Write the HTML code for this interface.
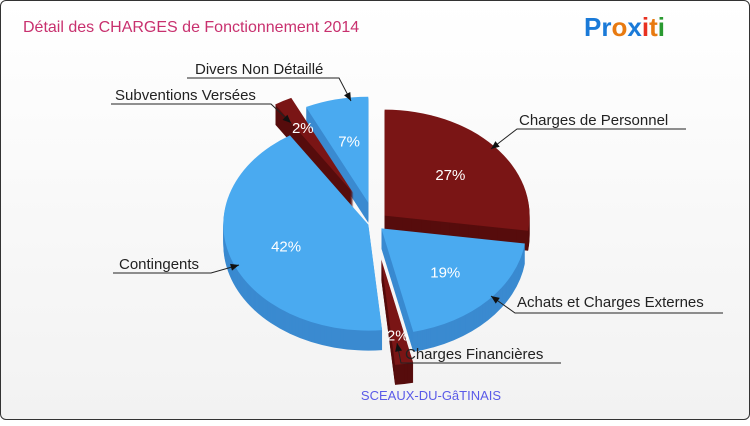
<!DOCTYPE html>
<html><head><meta charset="utf-8"><style>
body{margin:0;width:750px;height:420px;overflow:hidden;font-family:"Liberation Sans",sans-serif}
#w{position:absolute;left:0;top:0;width:748px;height:418px;border:1px solid #333;border-radius:6px;background:linear-gradient(#fff,#f2f2f2)}
</style></head><body>
<div id="w">
<svg id="s" width="750" height="420">
<text x="22" y="31" font-size="16" fill="#c8306e">Détail des CHARGES de Fonctionnement 2014</text>
<text x="583" y="35" font-size="26" font-weight="bold"><tspan fill="#1a7ad8">Pr</tspan><tspan fill="#e87a10">o</tspan><tspan fill="#1a7ad8">x</tspan><tspan fill="#e83020">i</tspan><tspan fill="#e87a10">t</tspan><tspan fill="#2a9a30">i</tspan></text>
<g id="pie"></g><g id="lab"></g>
<text x="430" y="399" text-anchor="middle" font-size="13" fill="#5a5ae8">SCEAUX-DU-GâTINAIS</text>
</svg></div>
<script>
const names=["Charges de Personnel","Achats et Charges Externes","Charges Financières","Contingents","Subventions Versées","Divers Non Détaillé"];
const values=[27,19,2,42,2,7];
const pctLabels=["27%","19%","2%","42%","2%","7%"];
const explode=[14,10,46,6,42,26];
const tops=["#7a1515","#4aaaf0","#7a1515","#4aaaf0","#7a1515","#4aaaf0"];
const sides=["#560c0c","#3a8ad0","#560c0c","#3a8ad0","#560c0c","#3a8ad0"];
const cx=373,cy=222,rx=145,ry=106,depth=20;
const NS="http://www.w3.org/2000/svg";
const pie=document.getElementById('pie'),lab=document.getElementById('lab');
const tot=values.reduce((a,b)=>a+b,0);
function pt(a,r,ox,oy){return [cx+ox+r*rx*Math.sin(a),cy+oy-r*ry*Math.cos(a)];}
function path(a1,a2,ox,oy){const p0=pt(0,0,ox,oy),p1=pt(a1,1,ox,oy),p2=pt(a2,1,ox,oy);
return `M${p0}L${p1}A${rx},${ry} 0 ${a2-a1>Math.PI?1:0} 1 ${p2}Z`;}
let acc=0;const sl=[];
values.forEach((v,i)=>{const a1=acc/tot*2*Math.PI;acc+=v;const a2=acc/tot*2*Math.PI;const m=(a1+a2)/2;
sl.push({i,a1,a2,m,ox:explode[i]*Math.sin(m),oy:-explode[i]*Math.cos(m)*0.8});});
sl.slice().sort((a,b)=>(-Math.cos(a.m))-(-Math.cos(b.m))).forEach(s=>{
const g=document.createElementNS(NS,'g');


for(let d=depth;d>0;d-=1){const p=document.createElementNS(NS,'path');p.setAttribute('d',path(s.a1,s.a2,s.ox,s.oy+d));p.setAttribute('fill',sides[s.i]);g.appendChild(p);}
const t=document.createElementNS(NS,'path');t.setAttribute('d',path(s.a1,s.a2,s.ox,s.oy));t.setAttribute('fill',tops[s.i]);g.appendChild(t);
pie.appendChild(g);});
sl.forEach(s=>{const r=s.i==2||s.i==4?0.72:0.6;const p=pt(s.m,r,s.ox,s.oy);
const t=document.createElementNS(NS,'text');t.setAttribute('x',p[0]);t.setAttribute('y',p[1]+6);
t.setAttribute('text-anchor','middle');t.setAttribute('font-size','15');t.setAttribute('fill','#fff');
t.textContent=pctLabels[s.i];lab.appendChild(t);});
const callouts=[[518,124,"start",[685,128],[516,128],[490,148]],[516,306,"start",[722,312],[514,312],[490,295]],[404,358,"start",[560,362],[400,362],[396,342]],[118,268,"start",[112,272],[210,272],[238,264]],[114,99,"start",[110,103],[270,103],[290,122]],[194,73,"start",[186,77],[338,77],[350,100]]];
callouts.forEach((c,i)=>{const g=document.createElementNS(NS,'g');


g.innerHTML=`<text x="${c[0]}" y="${c[1]}" font-size="15" fill="#222">${names[i]}</text><polyline points="${c[3]} ${c[4]} ${c[5]}" fill="none" stroke="#222" stroke-width="1"/>`;
const [x1,y1]=c[4],[x2,y2]=c[5];const a=Math.atan2(y2-y1,x2-x1);
const h=document.createElementNS(NS,'polygon');
h.setAttribute('points',`${x2},${y2} ${x2-9*Math.cos(a-0.4)},${y2-9*Math.sin(a-0.4)} ${x2-9*Math.cos(a+0.4)},${y2-9*Math.sin(a+0.4)}`);
h.setAttribute('fill','#111');g.appendChild(h);lab.appendChild(g);});
</script>
</body></html>
